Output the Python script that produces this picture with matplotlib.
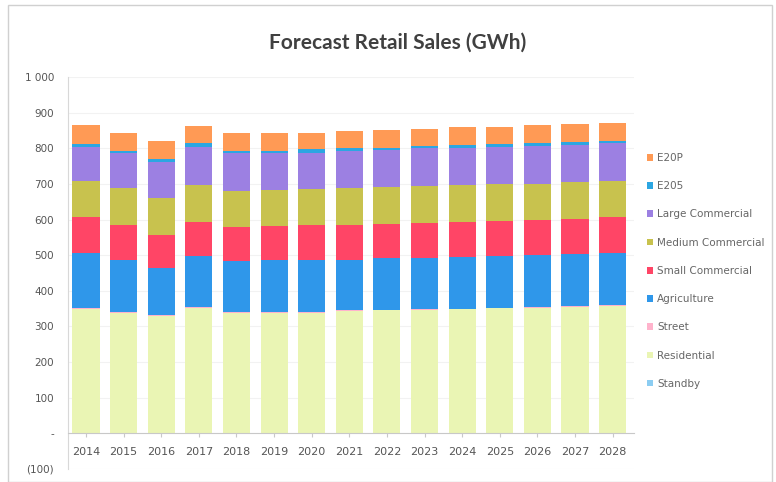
import matplotlib.pyplot as plt
from matplotlib.patches import Rectangle
import numpy as np

# Years and series (GWh)
years = ['2014', '2015', '2016', '2017', '2018', '2019', '2020', '2021',
         '2022', '2023', '2024', '2025', '2026', '2027', '2028']

standby = [1, 1, 1, 1, 1, 1, 1, 1, 1, 1, 1, 1, 1, 1, 1]
residential = [348, 338, 328, 351, 338, 338, 338, 342, 344, 345, 347, 350, 352, 354, 357]
street = [2, 2, 2, 2, 2, 2, 2, 2, 2, 2, 2, 2, 2, 2, 2]
agriculture = [155, 147, 132, 144, 142, 147, 145, 143, 144, 145, 145, 145, 145, 146, 145]
small_comm = [101, 96, 93, 96, 97, 93, 98, 96, 98, 98, 99, 98, 98, 100, 101]
medium_comm = [101, 104, 104, 103, 101, 101, 103, 106, 103, 103, 103, 103, 103, 103, 103]
large_comm = [95, 98, 102, 106, 105, 105, 99, 103, 103, 107, 104, 105, 105, 103, 105]
e205 = [9, 7, 7, 11, 7, 6, 11, 7, 7, 5, 8, 7, 8, 8, 6]
e20p = [53, 50, 51, 49, 50, 49, 46, 49, 49, 48, 50, 49, 51, 51, 52]

series = [
    ('Standby', standby, '#8ccdf2'),
    ('Residential', residential, '#eaf5b4'),
    ('Street', street, '#ffb3cc'),
    ('Agriculture', agriculture, '#2f97ea'),
    ('Small Commercial', small_comm, '#ff4566'),
    ('Medium Commercial', medium_comm, '#c8c24e'),
    ('Large Commercial', large_comm, '#9c80e2'),
    ('E205', e205, '#2ca6e2'),
    ('E20P', e20p, '#ff9a55'),
]

fig = plt.figure(figsize=(7.76, 4.82), dpi=100)
ax = fig.add_axes([0.0876, 0.027, 0.729, 0.813])

x = np.arange(len(years))
bottom = np.zeros(len(years))
handles = []
for name, vals, col in series:
    b = ax.bar(x, vals, width=0.72, bottom=bottom, color=col, label=name,
               edgecolor='none')
    handles.append(b)
    bottom += np.array(vals)

ax.set_xlim(-0.48, 14.56)
ax.set_ylim(-100, 1000)
ax.set_yticks(range(-100, 1001, 100))
ylabels = ['(100)', '-'] + [str(v) for v in range(100, 1000, 100)] + ['1 000']
ax.set_yticklabels(ylabels)
ax.yaxis.grid(True, color='#f2f2f2', linewidth=0.8)
ax.set_axisbelow(True)

ax.set_xticks(x)
ax.set_xticklabels(years)
ax.spines['bottom'].set_position(('data', 0))
for s in ['top', 'right']:
    ax.spines[s].set_visible(False)
ax.spines['left'].set_color('#d8d8d8')
ax.spines['bottom'].set_color('#c8c8c8')
ax.tick_params(axis='y', length=0, labelsize=7.5, labelcolor='#555555', pad=10)
ax.tick_params(axis='x', length=3, color='#c8c8c8', labelsize=8,
               labelcolor='#555555', pad=7)

fig.text(0.512, 0.912, 'Forecast Retail Sales (GWh)', ha='center', va='center',
         fontsize=15, fontweight='bold', color='#404040', family='Lato')

leg = fig.legend(handles[::-1], [s[0] for s in series][::-1],
                 loc='center left', bbox_to_anchor=(0.828, 0.438),
                 frameon=False, fontsize=7.5, labelspacing=1.75,
                 handlelength=0.6, handleheight=0.6, handletextpad=0.4,
                 borderaxespad=0)
for t in leg.get_texts():
    t.set_color('#666666')

# thin frame round the whole picture
fig.patches.append(Rectangle((0.01, 0.0), 0.985, 0.99, transform=fig.transFigure,
                             fill=False, edgecolor='#d0d0d0', linewidth=1))

fig.savefig('out.png', dpi=100)
